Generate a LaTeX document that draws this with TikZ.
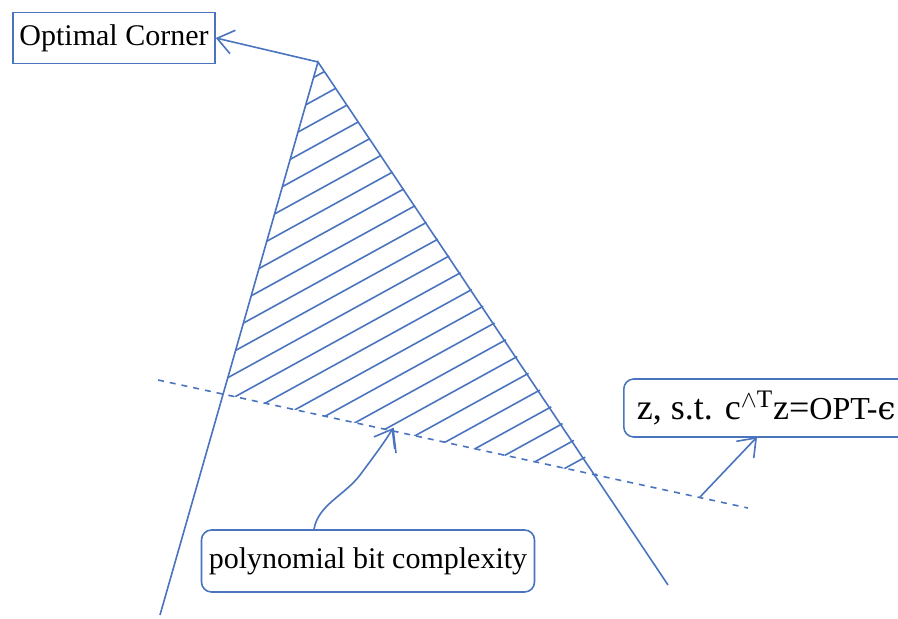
\documentclass[tikz,border=0pt]{standalone}
\usepackage{fontspec}
\setmainfont{Liberation Serif}
\newfontfamily\epsfont{DejaVu Serif}
\usetikzlibrary{arrows.meta,calc}
\definecolor{SketchBlue}{RGB}{74,116,190}

\begin{document}
\begin{tikzpicture}[x=0.5pt,y=-0.5pt,>={Straight Barb[length=8pt,width=12pt]},line width=0.8pt,
  lbl/.style={draw=SketchBlue,text=black,inner sep=0pt,font=\fontsize{15}{18}\selectfont},
  edge/.style={SketchBlue}]
\useasboundingbox (0,0) rectangle (898,619);
% polytope corner and the cut
\coordinate (apex) at (318,62);\coordinate (lo) at (160,615);\coordinate (ro) at (668,585);
\coordinate (ds) at (158,380);\coordinate (de) at (748,508);
\coordinate (hl) at (223,394);\coordinate (hr) at (598,476);
\begin{scope}
\clip (apex) -- (hl) -- (hr) -- cycle;
\foreach \c in {250,273,...,810} \draw[edge] (150,{\c-82.5}) -- (700,{\c-385});
\end{scope}
\draw[edge] (lo) -- (apex) -- (ro);
\draw[edge,dash pattern=on 3pt off 3pt] (ds) -- (de);
% labels
\node[lbl,minimum width=101pt,minimum height=25.5pt] (opt) at (114,38) {Optimal Corner};
\node[lbl,rounded corners=5pt,minimum width=166.5pt,minimum height=31pt] (poly) at (368,561) {polynomial bit complexity};
\node[lbl,rounded corners=5pt,anchor=west,inner xsep=6.5pt,minimum height=29pt,font=\fontsize{18}{21}\selectfont] (zb) at (623,408) {z, s.t. c\textsuperscript{$\wedge$T}z=\fontsize{16}{20}\selectfont OPT-{\epsfont ϵ}};
\coordinate (dz) at (700,497);\coordinate (zt) at (757,437);\coordinate (ptip) at (393,428);
\draw[->,edge] (apex) -- (opt.east);
\draw[->,edge] (dz) -- (zt);
\draw[->,edge] ($(poly.north)+(-54,0)$) .. controls (318,505) and (345,495) .. (360,475) .. controls (375,455) and (386,440) .. (ptip);
\draw[edge] (ptip) -- ++(3,25);
\end{tikzpicture}
\end{document}
